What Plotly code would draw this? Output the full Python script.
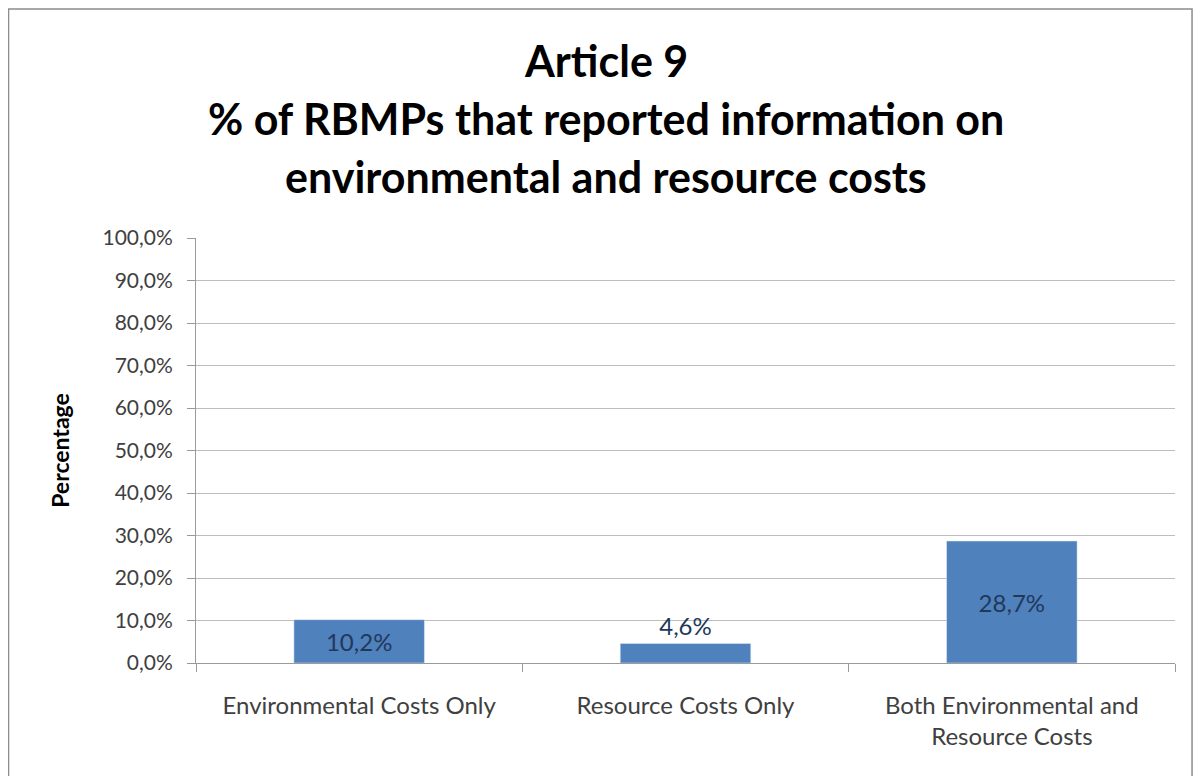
import plotly.graph_objects as go

# Chart data
categories = ["Environmental Costs Only", "Resource Costs Only",
              "Both Environmental and<br>Resource Costs"]
shares = [0.102, 0.046, 0.287]
label_pos = ["inside", "outside", "inside"]
title_lines = ["Article 9",
               "% of RBMPs that reported information on",
               "environmental and resource costs"]

fig = go.Figure()
fig.add_trace(go.Bar(
    x=categories, y=shares,
    marker=dict(color="#4F81BD"),
    width=0.4,
    texttemplate="%{y:.1%}",
    textposition=label_pos,
    insidetextanchor="middle",
    constraintext="none",
    cliponaxis=False,
    textfont=dict(family="Lato", size=24, color="#22385a"),
    hoverinfo="skip",
))

# title as separate lines to get the wide line spacing
for i, line in enumerate(title_lines):
    fig.add_annotation(
        text=line, xref="paper", yref="paper", x=0.419, y=[1.418, 1.282, 1.144][i],
        xanchor="center", yanchor="middle", showarrow=False,
        font=dict(family="Lato", size=43, color="#000000", weight="bold"),
    )

# outer frame
fig.add_shape(type="rect", xref="paper", yref="paper",
              x0=-0.1915, x1=1.0174, y0=-0.3, y1=1.539,
              line=dict(color="#8c8c8c", width=1.5), layer="below")

fig.update_layout(
    width=1195, height=768,
    margin=dict(l=188, r=28, t=230, b=113),
    paper_bgcolor="white", plot_bgcolor="white",
    separators=", ",
    showlegend=False,
    font=dict(family="Lato", size=20, color="#404040"),
)
fig.update_xaxes(
    type="category",
    showline=True, linecolor="#9a9a9a", linewidth=1,
    ticks="outside", tickson="boundaries", ticklen=8, tickcolor="#9a9a9a",
    ticklabelstandoff=21,
    tickfont=dict(family="Lato", size=24, color="#404040"),
    showgrid=False,
)
fig.update_yaxes(
    range=[0, 1], dtick=0.1, tickformat=".1%",
    showline=True, linecolor="#9a9a9a", linewidth=1,
    ticks="outside", ticklen=8, tickcolor="#9a9a9a",
    ticklabelstandoff=10,
    showgrid=True, gridcolor="#bdbdbd", gridwidth=1,
    zeroline=False,
    tickfont=dict(family="Lato", size=21, color="#404040"),
    title=dict(text="<b>Percentage</b>", standoff=26,
               font=dict(family="Lato", size=23, color="#000000")),
)

fig.write_html("out.html")
